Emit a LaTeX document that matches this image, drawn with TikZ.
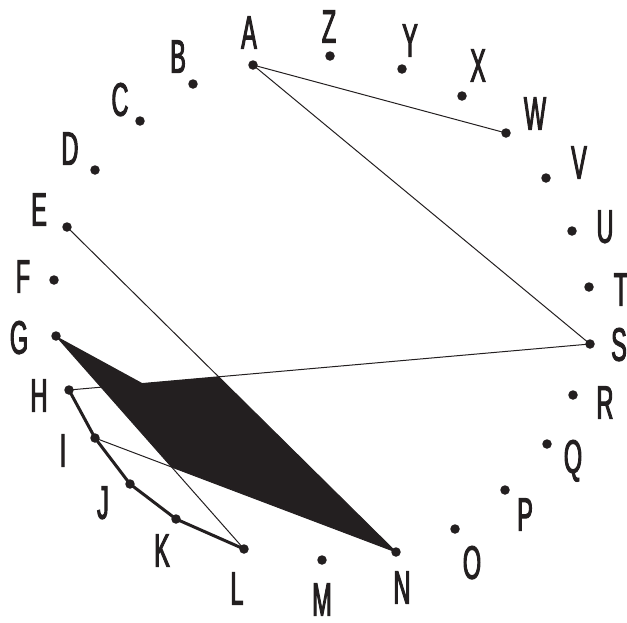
\documentclass[tikz,border=0pt]{standalone}
\usepackage{fontspec}
\newfontfamily\labfont[FakeStretch=0.5,FakeBold=2]{Liberation Sans}
\usetikzlibrary{calc}
\definecolor{ink}{HTML}{231F20}
\pgfdeclarelayer{bg}
\pgfsetlayers{bg,main}
\begin{document}
\begin{tikzpicture}[x=1pt,y=-1pt,
  dot/.style={circle,fill=ink,inner sep=0pt,minimum size=9.5pt},
  lab/.style={inner sep=0pt,text=ink,font=\labfont\fontsize{47}{47}\selectfont,text height=33.5pt,text depth=0pt},
  wire/.style={draw=ink,line width=1pt},
  thickwire/.style={draw=ink,line width=3pt,line join=round,line cap=round}]
\useasboundingbox (0,0) rectangle (627,622);
\foreach \n/\x/\y in {A/253/65,Z/330/56,Y/402/69,X/462/96,W/506/133,V/546/178,U/572/231,T/589/287,S/590/344,R/573/395,Q/547/444,P/505/490,O/455/529,N/396/552,M/322/560,L/244/549,K/176/519,J/130/484,I/95/438,H/69/390,G/56/336,F/54/280,E/67/227,D/95/170,C/140/121,B/193/84}
  \node[dot] (\n) at (\x,\y) {};
\foreach \n/\x/\y in {A/249/32,Z/329/26,Y/410/40,X/478/65,W/535/113,V/579/162,U/605/226,T/621/289,S/619/344,R/605/402,Q/573/456,P/525/514,O/472/562,N/402/587,M/322/599,L/237/588,K/162/550,J/103/502,I/63/450,H/39/395,G/19/337,F/23/276,E/39/209,D/70/148,C/120/99,B/178/56}
  \node[lab] (l\n) at (\x,\y) {\n};
\begin{pgfonlayer}{bg}
  \coordinate (P1) at ($(H.center)!0.142!(S.center)$);
  \coordinate (P2) at (intersection of E.center--N.center and H.center--S.center);
  \coordinate (P3) at (intersection of G.center--L.center and I.center--N.center);
  \fill[ink] (G.center) -- (P1) -- (P2) -- (N.center) -- (P3) -- cycle;
  \draw[wire] (A.center) -- (W.center);
  \draw[wire] (A.center) -- (S.center);
  \draw[wire] (S.center) -- (H.center);
  \draw[wire] (E.center) -- (N.center);
  \draw[wire] (G.center) -- (L.center);
  \draw[wire] (I.center) -- (N.center);
  \draw[thickwire] (H.center) -- (I.center) -- (J.center) -- (K.center) -- (L.center);
\end{pgfonlayer}
\end{tikzpicture}
\end{document}
